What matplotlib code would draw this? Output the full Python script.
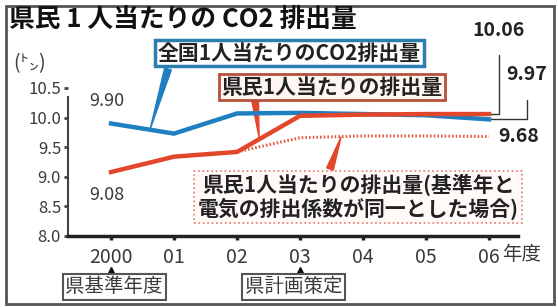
import matplotlib
matplotlib.use('Agg')
import matplotlib.pyplot as plt
import matplotlib.transforms as mtransforms
from matplotlib.patches import Rectangle

plt.rcParams['font.family'] = ['Noto Sans CJK JP', 'DejaVu Sans']

years = ['2000', '01', '02', '03', '04', '05', '06']
national = [9.90, 9.73, 10.07, 10.08, 10.06, 10.04, 9.97]
prefecture = [9.08, 9.34, 9.42, 10.03, 10.05, 10.06, 10.06]
prefecture_fixed = [9.08, 9.34, 9.42, 9.66, 9.69, 9.69, 9.68]
yticks = [8.0, 8.5, 9.0, 9.5, 10.0, 10.5]

W, H = 558, 307
blue = '#1f7fc1'
red = '#e2472b'
gray = '#3a3a3a'


def fx(px):
    return px / W


def fy(py):
    return 1 - py / H


fig = plt.figure(figsize=(5.58, 3.07), dpi=100)
fig.patch.set_facecolor('white')
ax = fig.add_axes([fx(68), fy(236), fx(518) - fx(68), fy(88) - fy(236)])
ax.set_facecolor('none')

x = list(range(len(years)))
ax.plot(x, prefecture_fixed, color='#e8553a', lw=2.2, ls=(0, (0.5, 0.7)), zorder=3)
ax.plot(x, national, color=blue, lw=3.2, solid_joinstyle='round', zorder=4)
ax.plot(x, prefecture, color=red, lw=3.2, solid_joinstyle='round', zorder=5)

ax.set_xlim(-0.683, 6.46)
ax.set_ylim(8.0, 10.5)
ax.set_xticks(x)
ax.set_xticklabels(years, fontsize=14, color=gray)
ax.set_yticks(yticks)
ax.set_yticklabels([f'{v:.1f}' for v in yticks], fontsize=12, color=gray)
for s in ['top', 'right']:
    ax.spines[s].set_visible(False)
ax.spines['left'].set_bounds(8.0, 10.35)
ax.spines['left'].set_linewidth(1.5)
ax.spines['left'].set_color('#444444')
ax.spines['bottom'].set_linewidth(2.5)
ax.spines['bottom'].set_color('#222222')
ax.tick_params(axis='y', direction='out', length=3, width=2, pad=2, color='#444444')
ax.tick_params(axis='x', direction='out', length=3, width=2.5, pad=5, color='#222222')

# unit after the last year
trans = mtransforms.blended_transform_factory(ax.transData, fig.transFigure)
ax.text(6.21, fy(255), '年度', fontsize=14, color=gray, ha='left', va='center',
        transform=trans)

# value labels
ax.text(0 - 0.35, 10.28, '9.90', fontsize=13, color=gray, ha='left', va='center')
ax.text(0 - 0.35, 8.7, '9.08', fontsize=13, color=gray, ha='left', va='center')
ax.text(6.15, 9.68, '9.68', fontsize=14, color='#222222', fontweight='bold',
        ha='left', va='center')
ax.annotate('10.06', xy=(6, prefecture[-1]), xycoords='data',
            xytext=(fx(499), fy(30)), textcoords='figure fraction',
            fontsize=14, color='#222222', fontweight='bold', ha='center', va='center',
            arrowprops=dict(arrowstyle='-', color='#333333', lw=1, shrinkA=9, shrinkB=0,
                            connectionstyle='angle,angleA=90,angleB=0,rad=0'))
ax.annotate('9.97', xy=(6, national[-1]), xycoords='data',
            xytext=(fx(527), fy(75)), textcoords='figure fraction',
            fontsize=14, color='#222222', fontweight='bold', ha='center', va='center',
            arrowprops=dict(arrowstyle='-', color='#333333', lw=1, shrinkA=9, shrinkB=0,
                            connectionstyle='angle,angleA=90,angleB=0,rad=0'))

# callout boxes with pointers
ax.annotate('', xy=(0.62, 9.80), xycoords='data',
            xytext=(fx(168), fy(69)), textcoords='figure fraction',
            arrowprops=dict(arrowstyle='wedge,tail_width=0.5', color=blue, shrinkA=0, shrinkB=0))
ax.annotate('', xy=(2.35, 9.66), xycoords='data',
            xytext=(fx(255), fy(99)), textcoords='figure fraction',
            arrowprops=dict(arrowstyle='wedge,tail_width=0.5', color=red, shrinkA=0, shrinkB=0))
ax.annotate('', xy=(3.65, 9.67), xycoords='data',
            xytext=(fx(330), fy(169)), textcoords='figure fraction',
            arrowprops=dict(arrowstyle='wedge,tail_width=0.5', color=red, shrinkA=0, shrinkB=0))

fig.text(fx(289.5), fy(53), '全国1人当たりのCO2排出量', fontsize=15, fontweight='bold',
         color='#222222', ha='center', va='center',
         bbox=dict(boxstyle='square,pad=0.12', fc='white', ec='#2b7fb0', lw=2.5))
fig.text(fx(332), fy(87), '県民1人当たりの排出量', fontsize=15, fontweight='bold',
         color='#222222', ha='center', va='center',
         bbox=dict(boxstyle='square,pad=0.1', fc='#fff6f2', ec='#b8503c', lw=2))
fig.text(fx(358), fy(197), '県民1人当たりの排出量(基準年と\n電気の排出係数が同一とした場合)',
         fontsize=15, fontweight='bold', color='#222222', ha='center', va='center',
         linespacing=1.1,
         bbox=dict(boxstyle='square,pad=0.15', fc='#fffaf8', ec='#e07a6a', lw=1.2, ls=':'))

# title and unit
fig.text(fx(9), fy(19), '県民 1 人当たりの CO2 排出量', fontsize=18.5, fontweight='bold',
         color='#111111', ha='left', va='center')
fig.text(fx(13), fy(64), '(㌧)', fontsize=14, color=gray, ha='left', va='center')

# event markers under the axis
ax.plot([0, 3], [fy(270), fy(270)], ls='none', marker='^', ms=5, color='#111111',
        transform=trans, clip_on=False)
ax.text(0.05, fy(287), '県基準年度', fontsize=14, color=gray, ha='center', va='center',
        transform=trans,
        bbox=dict(boxstyle='square,pad=0.15', fc='white', ec='#555555', lw=1.5))
ax.text(2.9, fy(287), '県計画策定', fontsize=14, color=gray, ha='center', va='center',
        transform=trans,
        bbox=dict(boxstyle='square,pad=0.15', fc='white', ec='#555555', lw=1.5))

fig.patches.append(Rectangle((fx(6), fy(304)), fx(548), fy(6) - fy(304),
                             transform=fig.transFigure, fill=False,
                             ec='#555555', lw=2))

fig.savefig('out.png', dpi=100)
